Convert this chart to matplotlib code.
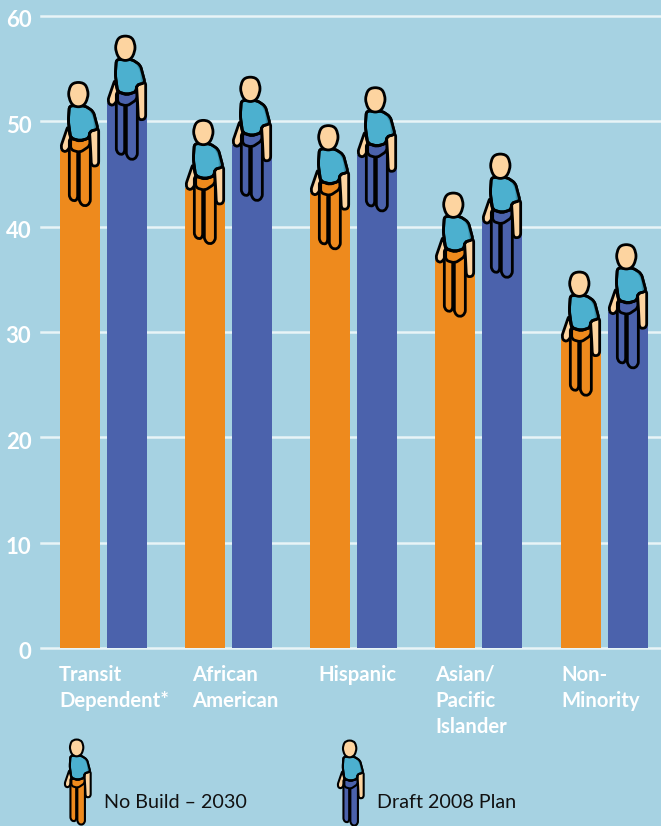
#
# Bars by population group, with a little person stood on each bar
#

import numpy as np
import matplotlib
matplotlib.use('Agg')
import matplotlib.pyplot as plt
from matplotlib.patches import PathPatch
from matplotlib.path import Path
from matplotlib.transforms import Affine2D, ScaledTranslation

plt.rcParams['font.family'] = ['Lato', 'DejaVu Sans']

groups = ['Transit\nDependent*', 'African\nAmerican', 'Hispanic',
          'Asian/\nPacific\nIslander', 'Non-\nMinority']
no_build = [47.3, 43.7, 43.2, 36.8, 29.3]
draft_plan = [51.7, 47.8, 46.8, 40.5, 31.9]
series_names = ['No Build – 2030', 'Draft 2008 Plan']
yticks = [0, 10, 20, 30, 40, 50, 60]

# pixel layout
orange_left = [60, 185, 310, 435, 561]
blue_left = [107, 232, 357, 482, 608]
label_left = [59, 192, 318, 435, 561]
bar_width = 40

bg = '#a6d2e2'
orange = '#ee8a1d'
blue = '#4b62ac'
shirt = '#4cb0cf'
shirt_dark = '#3a93ae'
skin = '#fdd4a0'
W, H = 661, 826

# person outline, thirds of a pixel, origin at top left of the bar
arm_back = [(24, -72), (2, -8), (10, 7), (25, 2), (34, -25)]
arm_front = [(88, -65), (116, -65), (116, 45), (104, 50), (94, 46), (92, 0)]
leg_back = [(28, -35), (28, 145), (42, 155), (53, 148), (53, 5), (60, -30)]
leg_front = [(58, -10), (58, 158), (74, 171), (91, 160), (91, -50), (60, -40)]
hips = [(32, -35), (60, -25), (90, -38), (90, -12), (60, 8), (32, 0)]
torso = [(28, -132), (75, -132), (100, -115), (114, -62), (88, -55), (88, -35),
         (60, -27), (32, -35), (25, -85)]
torso_shade = [(82, -128), (100, -112), (112, -63), (102, -60), (100, -95)]
head = [(26, -180), (38, -202), (72, -202), (84, -180), (84, -155), (70, -129), (40, -129), (26, -155)]


def smooth(points, r=10):
    # closed path, corners rounded off by a short quadratic curve
    pts = np.asarray(points, dtype=float)
    verts, codes = [], []
    for i, p in enumerate(pts):
        prev_p = pts[i - 1]
        next_p = pts[(i + 1) % len(pts)]
        d0 = prev_p - p
        d1 = next_p - p
        a = p + d0 * min(r / np.hypot(*d0), 0.5)
        b = p + d1 * min(r / np.hypot(*d1), 0.5)
        verts += [a, p, b]
        codes += [Path.LINETO if i else Path.MOVETO, Path.CURVE3, Path.CURVE3]
    verts.append(verts[0])
    codes.append(Path.CLOSEPOLY)
    return Path(verts, codes)


def person(ax, x, y, colour, scale=1.0, lw=2.0):
    # x, y are image pixels of the origin
    tr = (Affine2D().scale(scale / 3, -scale / 3)
          .translate(x, H - y))
    z = 5
    for shape, col in [(arm_back, skin), (leg_back, colour), (leg_front, colour),
                       (hips, colour), (arm_front, skin), (torso, shirt)]:
        ax.add_patch(PathPatch(smooth(shape), facecolor=col, edgecolor='black', lw=lw,
                               transform=tr, zorder=z, clip_on=False, joinstyle='round'))
        z += 0.1
    ax.add_patch(PathPatch(smooth(torso_shade), facecolor=shirt_dark, edgecolor='none',
                           transform=tr, zorder=z, clip_on=False))
    ax.add_patch(PathPatch(smooth(torso), facecolor='none', edgecolor='black', lw=lw,
                           transform=tr, zorder=z + 0.1, clip_on=False))
    ax.add_patch(PathPatch(smooth(head, r=30), facecolor=skin, edgecolor='black', lw=lw,
                           transform=tr, zorder=z + 0.2, clip_on=False))


fig = plt.figure(figsize=(W / 100, H / 100), dpi=100, facecolor=bg)
ax = fig.add_axes([41 / W, 1 - 648 / H, 620 / W, (648 - 16) / H], facecolor=bg)

ax.bar(orange_left, no_build, width=bar_width, align='edge', color=orange, zorder=2)
ax.bar(blue_left, draft_plan, width=bar_width, align='edge', color=blue, zorder=2)

ax.set_xlim(41, 661)
ax.set_ylim(0, 60)
ax.set_yticks(yticks)
ax.set_yticklabels(yticks, fontsize=16, fontweight='bold', color='white')
ax.set_xticks(label_left)
ax.set_xticklabels(groups, fontsize=14.6, fontweight='bold', color='white', ha='left',
                   linespacing=1.4)
ax.tick_params(axis='both', length=0)
ax.tick_params(axis='x', pad=12)
ax.tick_params(axis='y', pad=7)
ax.grid(True, axis='y', color='#e8f4f7', lw=1.8, zorder=1)
for gridline in ax.get_ygridlines():
    gridline.set_clip_on(False)
for spine in ax.spines.values():
    spine.set_visible(False)

# tick labels sit a little under their lines
shift = ScaledTranslation(0, -2 / 72, fig.dpi_scale_trans)
for label in ax.get_yticklabels():
    label.set_transform(label.get_transform() + shift)

fig.canvas.draw()
for lefts, vals, col in [(orange_left, no_build, orange), (blue_left, draft_plan, blue)]:
    for left, val in zip(lefts, vals):
        px, py = ax.transData.transform((left, val))
        person(ax, px, H - py, col)

# legend
person(ax, 64, 786, orange, scale=0.69, lw=1.5)
person(ax, 337, 787, blue, scale=0.69, lw=1.5)
fig.text(104 / W, 1 - 802 / H, series_names[0], fontsize=14.2, color='#111111', va='center')
fig.text(377 / W, 1 - 802 / H, series_names[1], fontsize=14.2, color='#111111', va='center')

fig.savefig('out.png', dpi=100, facecolor=bg)
